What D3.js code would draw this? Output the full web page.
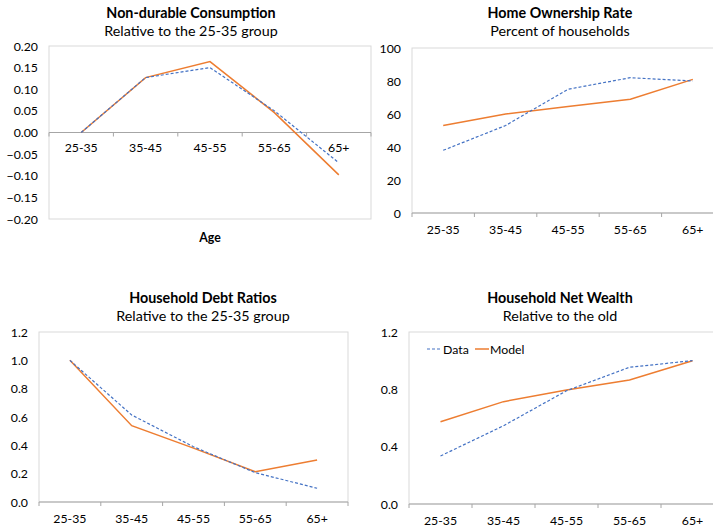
<!DOCTYPE html>
<html><head><meta charset="utf-8">
<script src="https://cdn.jsdelivr.net/npm/d3@7"></script>
<style>
html,body{margin:0;padding:0;background:#fff;}
text{font-family:Lato,"Open Sans",sans-serif;fill:#000;}
</style></head>
<body>
<svg id="c" width="713" height="531"></svg>
<script>
const categories = ["25-35","35-45","45-55","55-65","65+"];

const consData  = [0, 0.127, 0.150, 0.050, -0.070];
const consModel = [0, 0.127, 0.164, 0.046, -0.098];
const consTicks = [0.20,0.15,0.10,0.05,0.00,-0.05,-0.10,-0.15,-0.20];

const homeData  = [38, 53, 75, 82, 80];
const homeModel = [53, 60, 64.5, 69, 81];
const homeTicks = [0,20,40,60,80,100];

const debtData  = [1.0, 0.614, 0.39, 0.207, 0.097];
const debtModel = [1.0, 0.539, 0.38, 0.214, 0.296];
const debtTicks = [0.0,0.2,0.4,0.6,0.8,1.0,1.2];

const wealthData  = [0.335, 0.546, 0.79, 0.954, 1.0];
const wealthModel = [0.574, 0.714, 0.795, 0.865, 1.0];
const wealthTicks = [0.0,0.4,0.8,1.2];

const BLUE = "#4472C4", ORANGE = "#ED7D31";
const svg = d3.select("#c");

function panel(o){
  const g = svg.append("g");
  const x = d3.scaleBand().domain(categories).range([o.left,o.right]);
  const y = d3.scaleLinear().domain(o.domain).range([o.bottom,o.top]);
  g.append("rect").attr("x",o.left).attr("y",o.top)
    .attr("width",o.right-o.left).attr("height",o.bottom-o.top)
    .attr("fill","none").attr("stroke","#D9D9D9").attr("stroke-width",1);
  g.selectAll(".yt").data(o.ticks).enter().append("text")
    .attr("x",o.left-11).attr("y",d=>y(d)+4.5)
    .attr("text-anchor","end").attr("font-size","12.3px")
    .text(d=>d3.format(o.fmt)(d));
  const ay = y(0);
  g.append("line").attr("x1",o.left).attr("x2",o.right).attr("y1",ay).attr("y2",ay)
    .attr("stroke","#A6A6A6").attr("stroke-width",1);
  const bounds = categories.map(c=>x(c)).concat([o.right]);
  g.selectAll(".xt").data(bounds).enter().append("line")
    .attr("x1",d=>d).attr("x2",d=>d).attr("y1",ay).attr("y2",ay+4)
    .attr("stroke","#A6A6A6");
  g.selectAll(".xl").data(categories).enter().append("text")
    .attr("x",d=>x(d)+x.bandwidth()/2).attr("y",o.xLabY)
    .attr("text-anchor","middle").attr("font-size","12.3px").text(d=>d);
  const line = d3.line().x((d,i)=>x(categories[i])+x.bandwidth()/2).y(d=>y(d));
  g.append("path").datum(o.model).attr("d",line).attr("fill","none")
    .attr("stroke",ORANGE).attr("stroke-width",1.5);
  g.append("path").datum(o.data).attr("d",line).attr("fill","none")
    .attr("stroke",BLUE).attr("stroke-width",1.2).attr("stroke-dasharray","3,2");
  g.append("text").attr("x",o.tx).attr("y",o.ty).attr("text-anchor","middle")
    .attr("font-size","14.3px").attr("font-weight","bold").text(o.title);
  g.append("text").attr("x",o.tx).attr("y",o.ty+18).attr("text-anchor","middle")
    .attr("font-size","14.3px").text(o.subtitle);
  return {g,x,y};
}

const p1 = panel({left:49,right:371,top:46,bottom:219,domain:[-0.2,0.2],ticks:consTicks,fmt:".2f",
  xLabY:152,data:consData,model:consModel,tx:191,ty:18,
  title:"Non-durable Consumption",subtitle:"Relative to the 25-35 group"});
p1.g.append("text").attr("x",210).attr("y",242).attr("text-anchor","middle")
  .attr("font-size","12.3px").attr("font-weight","bold").text("Age");

panel({left:412,right:724,top:48,bottom:213,domain:[0,100],ticks:homeTicks,fmt:"d",
  xLabY:234,data:homeData,model:homeModel,tx:560,ty:18,
  title:"Home Ownership Rate",subtitle:"Percent of households"});

panel({left:39,right:348,top:332,bottom:502,domain:[0,1.2],ticks:debtTicks,fmt:".1f",
  xLabY:523,data:debtData,model:debtModel,tx:203,ty:303,
  title:"Household Debt Ratios",subtitle:"Relative to the 25-35 group"});

const p4 = panel({left:409,right:724,top:332,bottom:504,domain:[0,1.2],ticks:wealthTicks,fmt:".1f",
  xLabY:525,data:wealthData,model:wealthModel,tx:560,ty:303,
  title:"Household Net Wealth",subtitle:"Relative to the old"});

const leg = [{name:"Data",c:BLUE,dash:"3,2",x1:427,x2:442,tx:443},
             {name:"Model",c:ORANGE,dash:null,x1:475,x2:489,tx:490}];
leg.forEach(l=>{
  p4.g.append("line").attr("x1",l.x1).attr("x2",l.x2).attr("y1",349).attr("y2",349)
    .attr("stroke",l.c).attr("stroke-width",l.dash?1.2:1.5).attr("stroke-dasharray",l.dash);
  p4.g.append("text").attr("x",l.tx).attr("y",353.5).attr("font-size","12.3px").text(l.name);
});
</script>
</body></html>
